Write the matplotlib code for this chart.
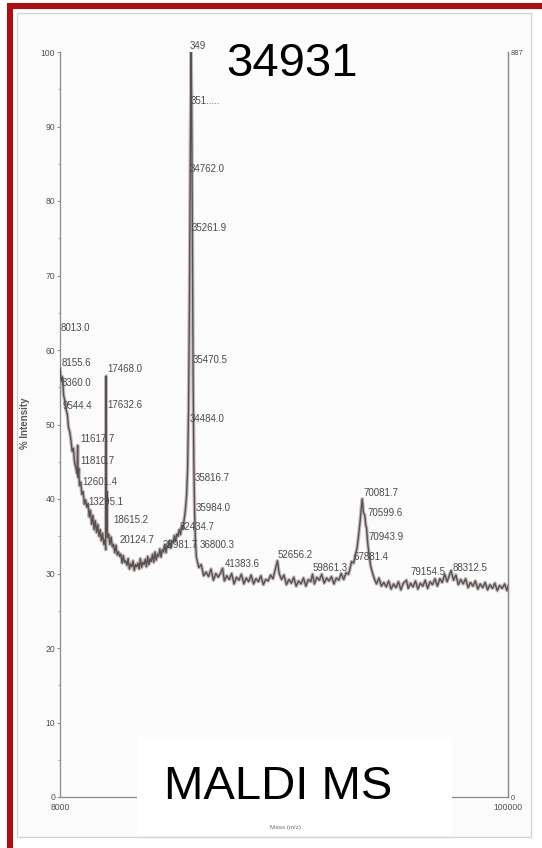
import matplotlib
matplotlib.use("Agg")
import matplotlib.pyplot as plt
from matplotlib.patches import Rectangle

W, H = 542, 848

# ---------------- data ----------------
trace_mz = [
    8000, 8250, 8500, 8750, 9000, 9250, 9500, 9750, 10000, 10250, 10500, 10750,
    11000, 11250, 11500, 11617, 11700, 11850, 12000, 12250, 12500, 12750, 13000,
    13250, 13500, 13750, 14000, 14250, 14500, 14750, 15000, 15250, 15500, 15750,
    16000, 16250, 16500, 16750, 17000, 17250, 17380, 17468, 17550, 17632, 17720,
    18000, 18250, 18500, 18750, 19000, 19250, 19500, 19750, 20000, 20250, 20500,
    20750, 21000, 21250, 21500, 21750, 22000, 22250, 22500, 22750, 23000, 23250,
    23500, 23750, 24000, 24250, 24500, 24750, 25000, 25250, 25500, 25750, 26000,
    26250, 26500, 26750, 27000, 27250, 27500, 27750, 28000, 28250, 28500, 28750,
    29000, 29250, 29500, 29750, 30000, 30250, 30500, 30750, 31000, 31250, 31500,
    31750, 32000, 32250, 32500, 32750, 33000, 33250, 33500, 33750, 34000, 34200,
    34400, 34600, 34800, 34931, 35050, 35200, 35350, 35500, 35650, 35800, 36000,
    36500, 37000, 37500, 38000, 38500, 39000, 39500, 40000, 40500, 41000, 41383,
    41750, 42250, 42750, 43250, 43750, 44250, 44750, 45250, 45750, 46250, 46750,
    47250, 47750, 48250, 48750, 49250, 49750, 50250, 50750, 51250, 51750, 52250,
    52656, 53000, 53500, 54000, 54500, 55000, 55500, 56000, 56500, 57000, 57500,
    58000, 58500, 59000, 59500, 59861, 60250, 60750, 61250, 61750, 62250, 62750,
    63250, 63750, 64250, 64750, 65250, 65750, 66250, 66750, 67250, 67600, 67881,
    68300, 68700, 69000, 69300, 69600, 69900, 70081, 70300, 70599, 70800, 70943,
    71200, 71500, 71800, 72200, 72600, 73000, 73500, 74000, 74500, 75000, 75500,
    76000, 76500, 77000, 77500, 78000, 78500, 79154, 79500, 80000, 80500, 81000,
    81500, 82000, 82500, 83000, 83500, 84000, 84500, 85000, 85500, 86000, 86500,
    87000, 87500, 88000, 88312, 88800, 89300, 89800, 90300, 90800, 91300, 91800,
    92300, 92800, 93300, 93800, 94300, 94800, 95300, 95800, 96300, 96800, 97300,
    97800, 98300, 98800, 99300, 99800, 100000,
]
trace_int = [
    57.5, 55.8, 56.4, 53.9, 53.2, 52.0, 51.4, 49.6, 49.0, 47.9, 46.4, 46.8,
    44.9, 44.2, 43.4, 47.2, 42.9, 44.1, 41.8, 42.3, 40.6, 41.0, 39.3,
    39.9, 38.9, 39.4, 37.6, 38.5, 36.6, 37.8, 35.9, 37.1, 35.5, 36.6,
    35.0, 35.9, 34.4, 35.4, 33.9, 34.6, 33.2, 56.5, 35.6, 41.0, 34.8,
    35.3, 33.9, 34.9, 33.6, 33.9, 32.8, 33.8, 32.5, 32.9, 32.3, 32.6,
    31.4, 32.4, 31.5, 31.7, 31.1, 32.0, 30.6, 31.3, 30.9, 31.7, 30.4,
    31.2, 30.9, 31.4, 30.6, 32.0, 30.8, 31.5, 31.2, 31.9, 30.9, 32.3,
    31.2, 32.0, 31.6, 32.6, 31.5, 32.9, 31.8, 32.6, 32.3, 33.3, 32.2,
    33.2, 32.9, 33.9, 32.8, 33.8, 33.5, 34.4, 33.4, 34.4, 34.2, 35.1,
    34.3, 35.3, 35.0, 35.9, 35.2, 36.5, 36.0, 37.2, 38.5, 40.5, 44.0,
    52.0, 68.0, 90.0, 100.0, 92.0, 72.0, 55.0, 44.0, 38.0, 34.5, 32.2,
    30.8, 31.2, 29.7, 30.2, 29.6, 30.6, 29.1, 30.0, 29.5, 30.1, 30.7,
    29.0, 29.7, 29.2, 30.0, 28.6, 29.5, 29.1, 29.9, 28.6, 29.4, 28.9,
    29.8, 28.6, 29.3, 28.9, 29.7, 28.5, 29.2, 29.0, 29.8, 29.3, 30.7,
    31.7, 30.0, 29.2, 29.8, 28.5, 29.2, 28.7, 29.5, 28.3, 29.0, 28.6,
    29.4, 28.3, 29.2, 28.9, 29.9, 28.6, 29.5, 29.1, 29.9, 28.7, 29.4,
    29.0, 29.6, 28.6, 29.4, 29.1, 30.0, 29.2, 30.1, 29.9, 30.8, 31.6,
    31.4, 32.6, 33.4, 35.0, 36.8, 39.0, 40.0, 38.2, 37.8, 36.4, 36.2,
    34.0, 32.4, 31.0, 30.0, 29.2, 28.6, 29.4, 28.3, 28.8, 28.2, 29.0,
    27.9, 28.6, 28.1, 28.9, 27.8, 28.7, 29.1, 28.0, 28.7, 28.2, 29.0,
    27.9, 28.7, 28.3, 29.1, 28.0, 28.9, 28.5, 29.3, 28.3, 29.3, 28.8,
    29.9, 28.9, 29.8, 30.4, 29.1, 29.8, 28.5, 29.2, 28.6, 29.3, 28.1,
    28.8, 28.3, 29.0, 27.9, 28.6, 28.1, 28.8, 27.8, 28.5, 28.0, 28.7,
    27.7, 28.4, 28.0, 28.6, 27.7, 28.3,
]

peak_labels = [
    "349", "351.....", "34762.0", "35261.9", "8013.0", "8155.6", "8360.0",
    "9544.4", "11617.7", "11810.7", "12601.4", "13295.1", "18615.2", "20124.7",
    "17468.0", "17632.6", "35470.5", "34484.0", "35816.7", "35984.0", "32434.7",
    "29981.7", "36800.3", "41383.6", "52656.2", "59861.3", "67881.4", "70081.7",
    "70599.6", "70943.9", "79154.5", "88312.5",
]
label_mz = [
    34697, 34902, 34697, 35108, 8205, 8411, 8411,
    8411, 12107, 12107, 12518, 13750, 18884, 20322,
    17652, 17652, 35313, 34697, 35724, 35929, 32643,
    29150, 36600, 41884, 52769, 59956, 68170, 70224,
    71046, 71251, 79876, 88706,
]
label_int = [
    100.8, 93.4, 84.3, 76.4, 63.0, 58.3, 55.6,
    52.5, 48.1, 45.1, 42.3, 39.6, 37.2, 34.5,
    57.4, 52.6, 58.7, 50.7, 42.8, 38.8, 36.2,
    33.8, 33.8, 31.3, 32.5, 30.7, 32.2, 40.8,
    38.1, 34.9, 30.2, 30.7,
]

y_ticks = [0, 10, 20, 30, 40, 50, 60, 70, 80, 90, 100]
x_ticks = [8000, 100000]
x_tick_labels = ["8000", "100000"]
right_ticks = [0, 887]

title_text = "34931"
method_text = "MALDI MS"
x_label_text = "Mass (m/z)"
y_label_text = "% Intensity"
# -------------------------------------------------------------

def fx(x):
    return x / W

def fy(y):
    return 1 - y / H

fig = plt.figure(figsize=(W / 100, H / 100), dpi=100)
fig.patch.set_facecolor("white")

# red frame (left and top bars) and scanned panel
fig.patches.append(Rectangle((fx(7), fy(848)), fx(6), 845 / H, transform=fig.transFigure,
                             facecolor="#b20b0b", edgecolor="none", zorder=-3))
fig.patches.append(Rectangle((fx(7), fy(9)), fx(535), 6 / H, transform=fig.transFigure,
                             facecolor="#b20b0b", edgecolor="none", zorder=-3))
fig.patches.append(Rectangle((fx(17), fy(837)), fx(514), 824 / H, transform=fig.transFigure,
                             facecolor="#fbfbfb", edgecolor="#d4d4d4", linewidth=1.0, zorder=-2))

ax = fig.add_axes([fx(60), fy(797), fx(448), 745 / H])
ax.set_facecolor("none")
ax.set_xlim(8000, 100000)
ax.set_ylim(0, 100)

font = "Liberation Sans"
gray_txt = "#505050"

# trace: light halo + darker core to imitate the scan
ax.plot(trace_mz, trace_int, color="#c2baba", linewidth=2.6, solid_joinstyle="round", zorder=2)
ax.plot(trace_mz, trace_int, color="#5a5050", linewidth=1.0, solid_joinstyle="round", zorder=3)

for t, m, v in zip(peak_labels, label_mz, label_int):
    ax.text(m, v, t, ha="left", va="center", fontsize=7, family=font,
            color="#4a4a4a", zorder=4, clip_on=False)

ax.spines["top"].set_visible(False)
for side in ("left", "bottom", "right"):
    ax.spines[side].set_color("#8a8a8a")
    ax.spines[side].set_linewidth(0.9)

ax.set_yticks(y_ticks)
ax.set_yticklabels([str(v) for v in y_ticks])
ax.set_yticks(list(range(5, 100, 10)), minor=True)
ax.tick_params(axis="y", which="major", length=2.5, width=0.7, color="#8a8a8a",
               labelsize=6.2, labelcolor=gray_txt, pad=1)
ax.tick_params(axis="y", which="minor", length=1.5, width=0.6, color="#9a9a9a")
for lab in ax.get_yticklabels():
    lab.set_family(font)

ax.set_xticks(x_ticks)
ax.set_xticklabels(x_tick_labels)
ax.tick_params(axis="x", which="major", length=0, labelsize=6.2, labelcolor=gray_txt, pad=4)
for lab in ax.get_xticklabels():
    lab.set_family(font)

ax.set_ylabel(y_label_text, fontsize=7, family=font, color="#5a5a5a", fontweight="bold")
ax.yaxis.set_label_coords(-0.067, 0.502)

axr = ax.twinx()
axr.set_ylim(0, 887)
axr.set_yticks(right_ticks)
axr.set_yticklabels([str(v) for v in right_ticks])
axr.tick_params(axis="y", length=0, labelsize=5.5, labelcolor=gray_txt, pad=2)
for lab in axr.get_yticklabels():
    lab.set_family(font)
for side in ("top", "left", "bottom"):
    axr.spines[side].set_visible(False)
axr.spines["right"].set_color("#8a8a8a")
axr.spines["right"].set_linewidth(0.9)

# white label box covering the bottom axis
fig.patches.append(Rectangle((fx(137), fy(836)), fx(315), 99 / H, transform=fig.transFigure,
                             facecolor="white", edgecolor="none", zorder=5))

fig.text(fx(292), fy(64), title_text, ha="center", va="center", fontsize=34,
         family=font, color="black", zorder=6)
fig.text(fx(278), fy(787), method_text, ha="center", va="center", fontsize=34,
         family=font, color="black", zorder=6)
fig.text(fx(286), fy(828), x_label_text, ha="center", va="center", fontsize=4.5,
         family=font, color="#707070", zorder=6)

fig.savefig("out.png", dpi=100)
